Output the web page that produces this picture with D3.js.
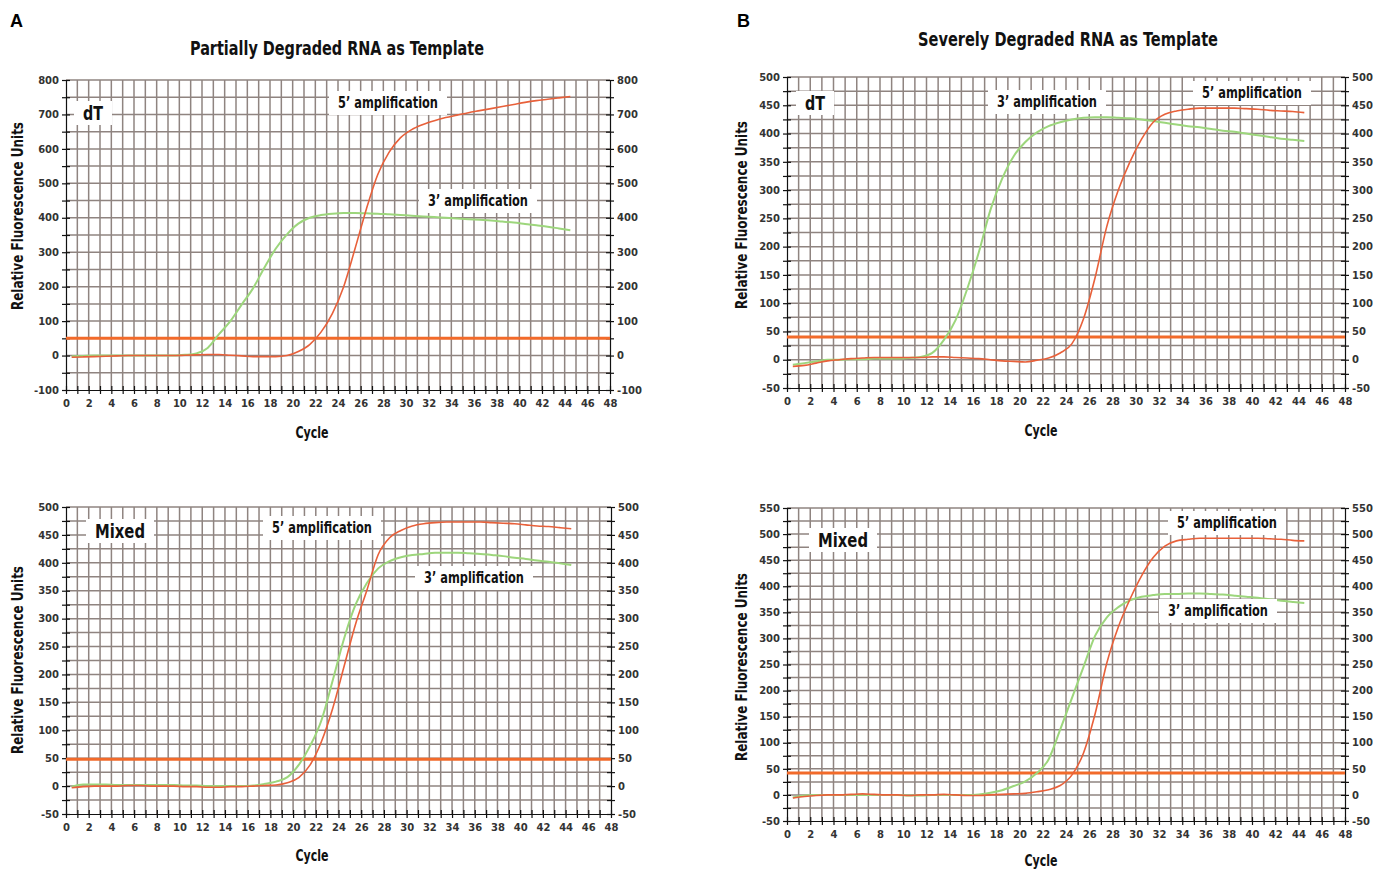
<!DOCTYPE html>
<html>
<head>
<meta charset="utf-8">
<script src="https://cdn.jsdelivr.net/npm/d3@7"></script>
<style>
  body { margin: 0; background: #fff; }
  svg { display: block; }
  .axis path, .axis line { stroke: #111; stroke-width: 1.2; }
  .axis text { font-family: 'DejaVu Sans', Verdana, sans-serif; font-size: 10px; font-weight: bold; fill: #333; }
  .grid line { stroke: #8f8480; stroke-width: 1.5; }
  .cond { font-family: 'DejaVu Sans Condensed', 'Liberation Sans Narrow', sans-serif; font-weight: bold; fill: #111; }
</style>
</head>
<body>
<svg id="chart" width="1373" height="870"></svg>
<script>
// reads 1..45, the instrument draws each read half a cycle to the left
const cycles = d3.range(1, 46);

// A: partially degraded, dT primed
const aDtFive = [-5,-4,-3,-2,-1,0,0,0,0,0, 1,2,3,3,1,-1,-3,-3,-3,0, 12,32,68,122,200,310,425,525,590,632,
  656,671,682,691,698,705,711,717,723,729, 735,740,744,748,752];
const aDtThree = [-2,-1,0,0,0,0,0,0,0,0, 2,6,22,62,100,148,195,255,310,352, 383,400,408,412,414,414,413,412,410,408,
  406,404,402,400,398,396,394,392,389,386, 382,378,374,369,364];
// A: partially degraded, mixed primers
const aMixFive = [-3,-1,0,0,0,1,1,0,0,0, -1,-1,-2,-2,-1,-1,0,1,2,6, 15,38,80,140,215,290,351,415,445,458,
  466,470,472,473,473,473,473,472,471,470, 468,466,465,463,461];
const aMixThree = [-1,3,3,3,2,2,2,2,2,2, 1,1,0,0,0,0,1,4,8,16, 38,72,118,190,265,325,364,390,403,410,
  414,416,418,418,418,417,416,414,412,409, 407,404,402,399,396];
// B: severely degraded, dT primed
const bDtFive = [-12,-10,-6,-2,0,2,3,4,4,4, 4,4,5,5,4,3,2,0,-2,-3, -4,-1,3,12,28,72,145,235,300,350,
  390,420,434,440,443,445,445,445,445,444, 443,441,440,439,437];
const bDtThree = [-9,-6,-3,0,0,1,1,2,2,2, 3,5,12,35,70,125,190,265,320,360, 385,402,413,420,425,428,429,429,428,427,
  425,422,419,416,413,411,408,405,403,400, 397,394,391,389,387];
// B: severely degraded, mixed primers
const bMixFive = [-6,-3,-1,0,0,1,2,1,0,0, -1,0,0,1,0,-1,-1,0,1,2, 3,6,10,18,38,80,155,252,322,375,
  420,455,477,487,490,492,492,492,492,492, 492,491,490,488,487];
const bMixThree = [-5,-1,0,0,0,0,0,0,0,0, -1,-1,0,0,0,0,1,4,9,17, 26,42,68,125,185,245,305,340,360,373,
  380,383,385,385,386,386,385,384,382,380, 378,375,372,370,368];

const thresholds = [50, 48, 40, 42];
const yDomains = [[-100, 800], [-50, 500], [-50, 500], [-50, 550]];
const yLabelSteps = [100, 50, 50, 50];
const yGridSteps = [50, 25, 25, 25];
const xTickLabels = d3.range(0, 49, 2);

const titles = ['Partially Degraded RNA as Template', 'Severely Degraded RNA as Template'];

const RED = '#e8603a', GREEN = '#9dd67c', THRESH = '#f26a2a';

const svg = d3.select('#chart');

// condensed bold text squeezed to the width it has in the figure
function condText(parent, x, y, txt, size, width) {
  return parent.append('text').attr('class', 'cond').attr('x', x).attr('y', y)
    .attr('text-anchor', 'middle').attr('dominant-baseline', 'central')
    .attr('textLength', width).attr('lengthAdjust', 'spacingAndGlyphs')
    .style('font-size', size + 'px').text(txt);
}

// panel letters and titles
svg.append('text').attr('x', 10).attr('y', 27).text('A')
  .style('font-family', 'Liberation Sans, Arial, sans-serif').style('font-weight', 'bold').style('font-size', '18px');
svg.append('text').attr('x', 737).attr('y', 27).text('B')
  .style('font-family', 'Liberation Sans, Arial, sans-serif').style('font-weight', 'bold').style('font-size', '18px');
condText(svg, 337, 48, titles[0], 19, 294);
condText(svg, 1068, 39, titles[1], 19, 300);

const panels = [
  { left: 66, right: 610, top: 80, bottom: 390, five: aDtFive, three: aDtThree, tag: 'dT', tagW: 20,
    tagPos: [93, 113], fivePos: [388, 103], threePos: [478, 201], yTitle: [18, 216], xTitle: [312, 432] },
  { left: 66, right: 611, top: 507, bottom: 814, five: aMixFive, three: aMixThree, tag: 'Mixed', tagW: 50,
    tagPos: [120, 531], fivePos: [322, 528], threePos: [474, 578], yTitle: [18, 660], xTitle: [312, 855] },
  { left: 787, right: 1345, top: 77, bottom: 388, five: bDtFive, three: bDtThree, tag: 'dT', tagW: 20,
    tagPos: [815, 103], fivePos: [1252, 93], threePos: [1047, 102], yTitle: [742, 215], xTitle: [1041, 430] },
  { left: 787, right: 1345, top: 508, bottom: 821, five: bMixFive, three: bMixThree, tag: 'Mixed', tagW: 50,
    tagPos: [843, 540], fivePos: [1227, 523], threePos: [1218, 611], yTitle: [742, 667], xTitle: [1041, 860] }
];

panels.forEach((p, i) => {
  const x = d3.scaleLinear().domain([0, 48]).range([p.left, p.right]);
  const y = d3.scaleLinear().domain(yDomains[i]).range([p.bottom, p.top]);
  const gridVals = d3.range(yDomains[i][0], yDomains[i][1] + 1, yGridSteps[i]);
  const g = svg.append('g');

  // grid
  const grid = g.append('g').attr('class', 'grid');
  grid.selectAll('.v').data(d3.range(1, 48)).enter().append('line')
    .attr('x1', d => x(d)).attr('x2', d => x(d)).attr('y1', p.top).attr('y2', p.bottom);
  grid.selectAll('.h').data(gridVals.slice(1)).enter().append('line')
    .attr('x1', p.left).attr('x2', p.right).attr('y1', d => y(d)).attr('y2', d => y(d));

  // axes
  const step = yLabelSteps[i];
  const fmtY = d => (d % step === 0 ? d : '');
  const left = g.append('g').attr('class', 'axis').attr('transform', `translate(${p.left},0)`)
    .call(d3.axisLeft(y).tickValues(gridVals).tickSizeInner(4).tickSizeOuter(0).tickPadding(3).tickFormat(fmtY));
  left.selectAll('.tick line').attr('x1', 4);
  const right = g.append('g').attr('class', 'axis').attr('transform', `translate(${p.right},0)`)
    .call(d3.axisRight(y).tickValues(gridVals).tickSizeInner(4).tickSizeOuter(0).tickPadding(3).tickFormat(fmtY));
  right.selectAll('.tick line').attr('x1', -4);
  const bottom = g.append('g').attr('class', 'axis').attr('transform', `translate(0,${p.bottom})`)
    .call(d3.axisBottom(x).tickValues(d3.range(0, 49)).tickSizeInner(4).tickSizeOuter(0).tickPadding(6)
      .tickFormat(d => (xTickLabels.includes(d) ? d : '')));
  bottom.selectAll('.tick line').attr('y1', -4);

  // threshold
  g.append('line').attr('x1', p.left).attr('x2', p.right)
    .attr('y1', y(thresholds[i])).attr('y2', y(thresholds[i]))
    .attr('stroke', THRESH).attr('stroke-width', 3);

  // curves
  const line = d3.line().x((d, j) => x(cycles[j] - 0.5)).y(d => y(d)).curve(d3.curveMonotoneX);
  g.append('path').datum(p.three).attr('d', line).attr('fill', 'none').attr('stroke', GREEN).attr('stroke-width', 2);
  g.append('path').datum(p.five).attr('d', line).attr('fill', 'none').attr('stroke', RED).attr('stroke-width', 1.6);

  // boxed labels
  const boxed = (pos, txt, size, width) => {
    g.append('rect').attr('x', pos[0] - width / 2 - 9).attr('y', pos[1] - 12)
      .attr('width', width + 18).attr('height', 24).attr('fill', '#fff');
    condText(g, pos[0], pos[1], txt, size, width);
  };
  boxed(p.tagPos, p.tag, 20, p.tagW);
  boxed(p.fivePos, '5’ amplification', 15, 100);
  boxed(p.threePos, '3’ amplification', 15, 100);

  // axis titles
  condText(svg, 0, 0, 'Relative Fluorescence Units', 15, 188)
    .attr('x', null).attr('y', null)
    .attr('transform', `translate(${p.yTitle[0]},${p.yTitle[1]}) rotate(-90)`);
  condText(svg, p.xTitle[0], p.xTitle[1], 'Cycle', 16, 33);
});
</script>
</body>
</html>
